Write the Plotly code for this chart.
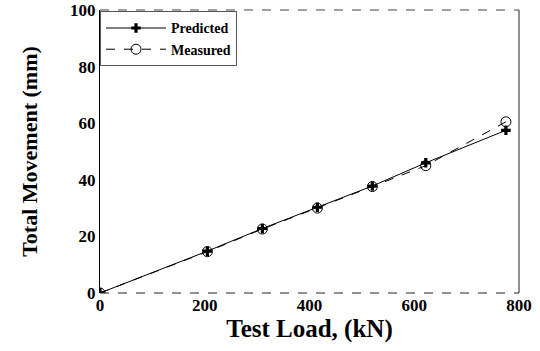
import plotly.graph_objects as go

loads = [0, 205, 310, 415, 520, 622, 775]
predicted = [0, 14.8, 22.8, 30.3, 37.8, 46.0, 57.5]
measured = [0, 14.6, 22.6, 30.0, 37.6, 45.0, 60.5]
x_ticks = [0, 200, 400, 600, 800]
y_ticks = [0, 20, 40, 60, 80, 100]

FONT = "Liberation Serif"

fig = go.Figure()
fig.add_trace(go.Scatter(
    x=loads, y=predicted, name="<b>Predicted</b>", mode="lines+markers",
    line=dict(color="black", width=1),
    marker=dict(symbol="cross", size=8, color="black"),
))
fig.add_trace(go.Scatter(
    x=loads, y=measured, name="<b>Measured</b>", mode="lines+markers",
    line=dict(color="black", width=1, dash="dash"),
    marker=dict(symbol="circle-open", size=10, color="black", line=dict(width=1)),
))

# frame: top/bottom dashed, right solid
fig.add_shape(type="line", xref="paper", yref="paper", x0=0, x1=1, y0=1, y1=1,
              line=dict(color="#444", width=1, dash="dash"))
fig.add_shape(type="line", xref="paper", yref="paper", x0=0, x1=1, y0=0, y1=0,
              line=dict(color="#222", width=1, dash="dash"))
fig.add_shape(type="line", xref="paper", yref="paper", x0=1, x1=1, y0=0, y1=1,
              line=dict(color="#222", width=1))

fig.update_layout(
    width=540, height=351,
    margin=dict(l=100, r=21, t=10, b=58, autoexpand=False),
    paper_bgcolor="white", plot_bgcolor="white",
    font=dict(family=FONT, color="black"),
    showlegend=True,
    legend=dict(
        x=0.0, y=0.995, xanchor="left", yanchor="top",
        bgcolor="white", bordercolor="#555", borderwidth=1,
        font=dict(family=FONT, size=14, color="black"),
        tracegroupgap=0, itemwidth=60,
    ),
    xaxis=dict(
        range=[0, 800], tickvals=x_ticks, ticktext=[f"<b>{v}</b>" for v in x_ticks],
        showgrid=False, zeroline=False, showline=False, automargin=False,
        ticks="", tickfont=dict(family=FONT, size=17),
        title=dict(text="<b>Test Load, (kN)</b>", font=dict(family=FONT, size=25), standoff=2),
    ),
    yaxis=dict(
        range=[0, 100], tickvals=y_ticks, ticktext=[f"<b>{v}</b>" for v in y_ticks],
        showgrid=False, zeroline=False, showline=True, linecolor="black", linewidth=1,
        automargin=False,
        ticks="", tickfont=dict(family=FONT, size=17),
        title=dict(text="<b>Total Movement (mm)</b>", font=dict(family=FONT, size=22), standoff=26),
    ),
)

fig.write_html("out.html")
